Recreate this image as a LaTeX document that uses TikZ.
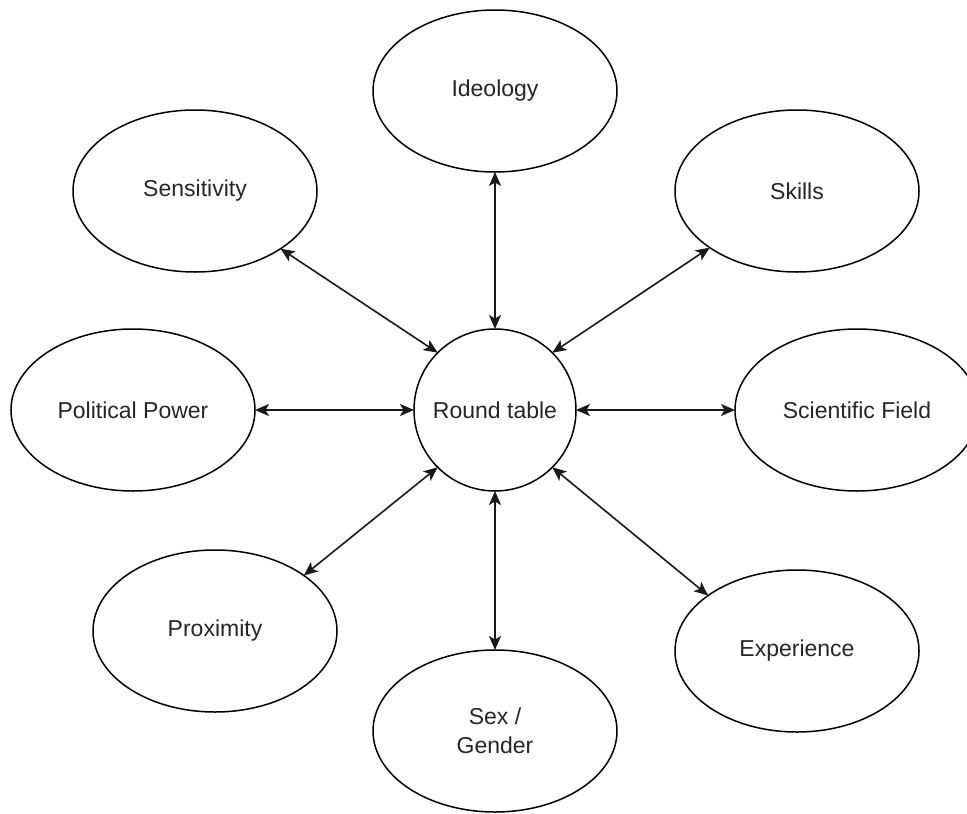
\documentclass[tikz,border=0pt]{standalone}
\usepackage{fontspec}
\setmainfont{Liberation Sans}
\usetikzlibrary{shapes.geometric,arrows.meta}

\tikzset{
  topic/.style={ellipse, draw=black, line width=1.5pt, fill=white,
    minimum width=244pt, minimum height=162pt, inner sep=0pt, outer sep=0pt,
    align=center, text=black!85, font=\fontsize{23}{29}\selectfont},
  hub/.style={circle, draw=black, line width=1.5pt, fill=white,
    minimum size=162pt, inner sep=0pt, outer sep=0pt,
    text=black!85, font=\fontsize{23}{29}\selectfont},
  link/.style={line width=1.6pt, draw=black!90,
    {Stealth[length=14pt,width=12pt,inset=3.5pt]}-{Stealth[length=14pt,width=12pt,inset=3.5pt]}}
}

\begin{document}
\begin{tikzpicture}[x=1pt, y=-1pt]
  \useasboundingbox[fill=white] (0,0) rectangle (967,814);

  % central node
  \node[hub] (rt) at (495,410) {Round table};

  % surrounding factors
  \node[topic] (ideo) at (495,91)  {Ideology};
  \node[topic] (sens) at (195,191) {Sensitivity};
  \node[topic] (skil) at (797,191) {Skills};
  \node[topic] (pol)  at (133,410) {Political Power};
  \node[topic] (sci)  at (857,410) {Scientific Field};
  \node[topic] (prox) at (215,631) {Proximity};
  \node[topic] (exp)  at (797,651) {Experience};
  \node[topic] (sex)  at (495,731) {Sex /\\Gender};

  % two-way links to the round table
  \draw[link] (rt.north) -- (ideo.south);
  \draw[link] (rt.135) -- (sens.-34);
  \draw[link] (rt.45) -- (skil.-147);
  \draw[link] (rt.west) -- (pol.east);
  \draw[link] (rt.east) -- (sci.west);
  \draw[link] (rt.225) -- (prox.32);
  \draw[link] (rt.-45) -- (exp.148);
  \draw[link] (rt.south) -- (sex.north);
\end{tikzpicture}
\end{document}
